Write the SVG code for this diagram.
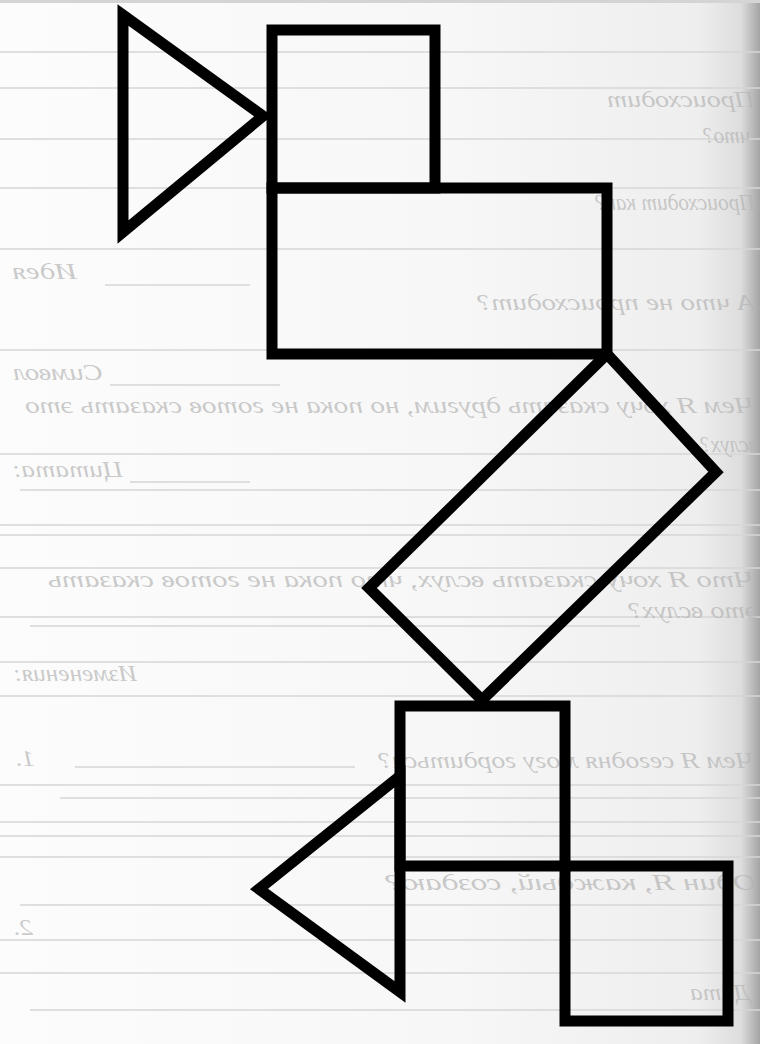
<svg xmlns="http://www.w3.org/2000/svg" width="760" height="1044" viewBox="0 0 760 1044">
<defs>
<linearGradient id="paper" x1="0" y1="0" x2="1" y2="0">
<stop offset="0" stop-color="#fcfcfc"/>
<stop offset="0.6" stop-color="#f7f7f7"/>
<stop offset="0.92" stop-color="#eeeeee"/>
<stop offset="0.975" stop-color="#dddddd"/>
<stop offset="1" stop-color="#a4a4a4"/>
</linearGradient>
<style>
.rule{stroke:#d6d6d6;stroke-width:1.4;fill:none}
.ghost{font-family:"Liberation Serif","DejaVu Serif",serif;font-style:italic;font-size:24px;fill:#b4b4b4;fill-opacity:0.7}
.shape{fill:none;stroke:#000;stroke-width:11;stroke-linejoin:miter;stroke-miterlimit:6}
</style>
</defs>
<rect x="0" y="0" width="760" height="1044" fill="url(#paper)"/>
<rect x="0" y="0" width="760" height="3" fill="#d4d4d4"/>
<g id="page-rules">
<line class="rule" x1="0" y1="52" x2="760" y2="52"/>
<line class="rule" x1="0" y1="88" x2="760" y2="88"/>
<line class="rule" x1="0" y1="139" x2="760" y2="139"/>
<line class="rule" x1="0" y1="188" x2="760" y2="188"/>
<line class="rule" x1="0" y1="249" x2="760" y2="249"/>
<line class="rule" x1="105" y1="285" x2="250" y2="285"/>
<line class="rule" x1="0" y1="350" x2="760" y2="350"/>
<line class="rule" x1="110" y1="385" x2="280" y2="385"/>
<line class="rule" x1="0" y1="454" x2="760" y2="454"/>
<line class="rule" x1="130" y1="482" x2="250" y2="482"/>
<line class="rule" x1="20" y1="490" x2="760" y2="490"/>
<line class="rule" x1="0" y1="525" x2="760" y2="525"/>
<line class="rule" x1="0" y1="535" x2="760" y2="535"/>
<line class="rule" x1="0" y1="568" x2="760" y2="568"/>
<line class="rule" x1="0" y1="617" x2="760" y2="617"/>
<line class="rule" x1="30" y1="626" x2="640" y2="626"/>
<line class="rule" x1="0" y1="662" x2="760" y2="662"/>
<line class="rule" x1="0" y1="696" x2="760" y2="696"/>
<line class="rule" x1="75" y1="767" x2="355" y2="767"/>
<line class="rule" x1="0" y1="785" x2="760" y2="785"/>
<line class="rule" x1="60" y1="798" x2="760" y2="798"/>
<line class="rule" x1="0" y1="822" x2="760" y2="822"/>
<line class="rule" x1="0" y1="836" x2="760" y2="836"/>
<line class="rule" x1="0" y1="857" x2="760" y2="857"/>
<line class="rule" x1="20" y1="905" x2="760" y2="905"/>
<line class="rule" x1="0" y1="940" x2="760" y2="940"/>
<line class="rule" x1="0" y1="973" x2="760" y2="973"/>
<line class="rule" x1="30" y1="1010" x2="760" y2="1010"/>
</g>
<g id="page-text">
<text class="ghost" x="607" y="107" textLength="148" lengthAdjust="spacingAndGlyphs" transform="matrix(-1 0 0 1 1362 0)">Происходит</text>
<text class="ghost" x="703" y="143" textLength="47" lengthAdjust="spacingAndGlyphs" transform="matrix(-1 0 0 1 1453 0)">что?</text>
<text class="ghost" x="595" y="210" textLength="160" lengthAdjust="spacingAndGlyphs" transform="matrix(-1 0 0 1 1350 0)">Происходит как?</text>
<text class="ghost" x="12" y="279" textLength="65" lengthAdjust="spacingAndGlyphs" transform="matrix(-1 0 0 1 89 0)">Идея</text>
<text class="ghost" x="477" y="310" textLength="278" lengthAdjust="spacingAndGlyphs" transform="matrix(-1 0 0 1 1232 0)">А что не происходит?</text>
<text class="ghost" x="13" y="380" textLength="90" lengthAdjust="spacingAndGlyphs" transform="matrix(-1 0 0 1 116 0)">Символ</text>
<text class="ghost" x="25" y="413" textLength="730" lengthAdjust="spacingAndGlyphs" transform="matrix(-1 0 0 1 780 0)">Чем Я хочу сказать другим, но пока не готов сказать это</text>
<text class="ghost" x="700" y="452" textLength="58" lengthAdjust="spacingAndGlyphs" transform="matrix(-1 0 0 1 1458 0)">вслух?</text>
<text class="ghost" x="12" y="477" textLength="111" lengthAdjust="spacingAndGlyphs" transform="matrix(-1 0 0 1 135 0)">Цитата:</text>
<text class="ghost" x="48" y="587" textLength="707" lengthAdjust="spacingAndGlyphs" transform="matrix(-1 0 0 1 803 0)">Что Я хочу сказать вслух, что пока не готов сказать</text>
<text class="ghost" x="628" y="618" textLength="129" lengthAdjust="spacingAndGlyphs" transform="matrix(-1 0 0 1 1385 0)">это вслух?</text>
<text class="ghost" x="13" y="681" textLength="124" lengthAdjust="spacingAndGlyphs" transform="matrix(-1 0 0 1 150 0)">Изменения:</text>
<text class="ghost" x="378" y="768" textLength="377" lengthAdjust="spacingAndGlyphs" transform="matrix(-1 0 0 1 1133 0)">Чем Я сегодня могу гордиться?</text>
<text class="ghost" x="15" y="766" textLength="20" lengthAdjust="spacingAndGlyphs" transform="matrix(-1 0 0 1 50 0)">1.</text>
<text class="ghost" x="385" y="890" textLength="372" lengthAdjust="spacingAndGlyphs" transform="matrix(-1 0 0 1 1142 0)">Один Я, каждый, создаю?</text>
<text class="ghost" x="13" y="935" textLength="20" lengthAdjust="spacingAndGlyphs" transform="matrix(-1 0 0 1 46 0)">2.</text>
<text class="ghost" x="690" y="1000" textLength="60" lengthAdjust="spacingAndGlyphs" transform="matrix(-1 0 0 1 1440 0)">Дата</text>
</g>
<g id="triangle-top">
<polygon class="shape" points="123,15 263,116 123,232"/>
</g>
<g id="square-top">
<rect class="shape" x="272" y="30" width="163" height="158"/>
</g>
<g id="rect-wide">
<rect class="shape" x="272" y="188" width="335" height="166"/>
</g>
<g id="diamond">
<polygon class="shape" points="607,354 716,472 482,700 369,588"/>
</g>
<g id="square-bottom">
<rect class="shape" x="400" y="706" width="165" height="160"/>
</g>
<g id="square-corner">
<rect class="shape" x="565" y="866" width="163" height="155"/>
</g>
<g id="triangle-bottom">
<polygon class="shape" points="400,776 259,889 400,992"/>
</g>
<g id="connectors"/>
</svg>
